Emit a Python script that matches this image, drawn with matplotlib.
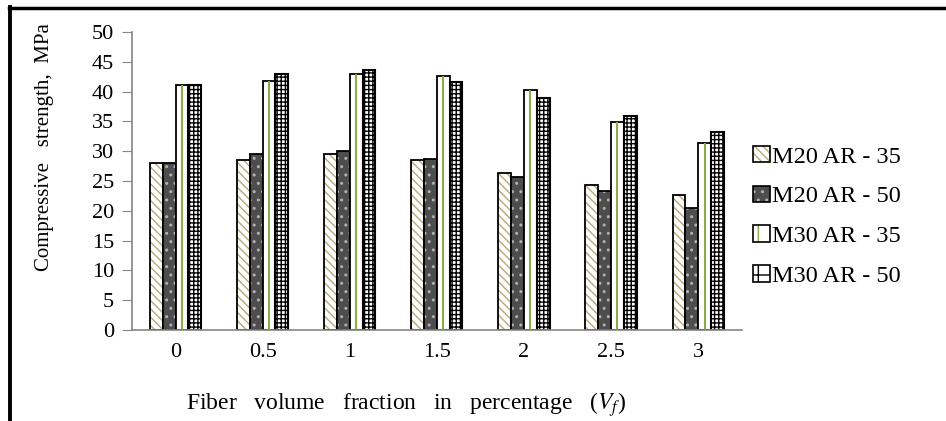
import numpy as np
import matplotlib.pyplot as plt
from matplotlib.lines import Line2D

plt.rcParams['font.family'] = ['Liberation Serif', 'DejaVu Serif']
plt.rcParams['mathtext.fontset'] = 'stix'
plt.rcParams['hatch.linewidth'] = 1.0

# Fiber volume fraction (%)
vf = ['0', '0.5', '1', '1.5', '2', '2.5', '3']

# Compressive strength, MPa
m20_ar35 = [28.0, 28.5, 29.5, 28.5, 26.4, 24.3, 22.7]
m20_ar50 = [28.0, 29.5, 30.1, 28.7, 25.6, 23.3, 20.4]
m30_ar35 = [41.1, 41.7, 43.0, 42.7, 40.3, 34.9, 31.4]
m30_ar50 = [41.1, 43.0, 43.7, 41.6, 39.0, 35.9, 33.2]

labels = ['M20 AR - 35', 'M20 AR - 50', 'M30 AR - 35', 'M30 AR - 50']

fig = plt.figure(figsize=(9.46, 4.21), dpi=100)
ax = fig.add_axes([0.1395, 0.216, 0.6445, 0.708])

x = np.arange(len(vf))
w = 0.147
offs = np.array([-1.5, -0.5, 0.5, 1.5]) * w

# M20 AR - 35 : tan diagonal hatch
ax.bar(x + offs[0], m20_ar35, w, color='white', edgecolor='#b8a878',
       hatch='\\\\\\\\', linewidth=0)
ax.bar(x + offs[0], m20_ar35, w, fill=False, edgecolor='black', linewidth=1.3)

# M20 AR - 50 : dark dotted
ax.bar(x + offs[1], m20_ar50, w, color='#4d4d4d', edgecolor='#b0b0b0',
       hatch='..', linewidth=0)
ax.bar(x + offs[1], m20_ar50, w, fill=False, edgecolor='black', linewidth=1.3)

# M30 AR - 35 : white with one green line
ax.bar(x + offs[2], m30_ar35, w, color='white', edgecolor='black', linewidth=1.3)
ax.vlines(x + offs[2], 0, m30_ar35, color='#8aac4a', linewidth=1.5)

# M30 AR - 50 : black grid
ax.bar(x + offs[3], m30_ar50, w, color='white', edgecolor='black',
       hatch='++++', linewidth=0)
ax.bar(x + offs[3], m30_ar50, w, fill=False, edgecolor='black', linewidth=1.5)

ax.set_xlim(-0.5, len(vf) - 0.5)
ax.set_ylim(0, 50)
ax.set_yticks(np.arange(0, 51, 5))
ax.set_xticks(x)
ax.set_xticklabels(vf)
ax.tick_params(axis='y', length=7, color='#868686', labelsize=16, pad=6)
ax.tick_params(axis='x', length=0, labelsize=16, pad=9)

for s in ['top', 'right']:
    ax.spines[s].set_visible(False)
for s in ['left', 'bottom']:
    ax.spines[s].set_color('#868686')
    ax.spines[s].set_linewidth(1.2)

fig.text(0.047, 0.65, 'Compressive   strength,  MPa', rotation=90,
         ha='center', va='center', fontsize=15)
fig.text(0.429, 0.04, r'Fiber   volume   fraction   in   percentage   ($V_f$)',
         ha='center', va='center', fontsize=17)

# legend keys: hatch patch + black outline on top
def key(fc, hc, hatch):
    a = plt.Rectangle((0, 0), 1, 1, facecolor=fc, edgecolor=hc, hatch=hatch, linewidth=0)
    b = plt.Rectangle((0, 0), 1, 1, fill=False, edgecolor='black', linewidth=1.2)
    return (a, b)

handles = [
    key('white', '#b8a878', '\\\\\\\\'),
    key('#4d4d4d', '#b0b0b0', '..'),
    key('white', '#8aac4a', '|'),
    key('white', 'black', '+'),
]
leg = fig.legend(handles, labels, loc='center left', bbox_to_anchor=(0.796, 0.486),
                 frameon=False, fontsize=17.5, handlelength=0.68, handleheight=0.68,
                 handletextpad=0.12, labelspacing=0.74, borderpad=0, borderaxespad=0)

# outer frame (top and left only)
fig.add_artist(Line2D([0.009, 1.0], [0.981, 0.981], color='black', linewidth=2.5,
                      transform=fig.transFigure))
fig.add_artist(Line2D([0.011, 0.011], [0.0, 0.983], color='black', linewidth=2.8,
                      transform=fig.transFigure))

fig.savefig('out.png', dpi=100)
